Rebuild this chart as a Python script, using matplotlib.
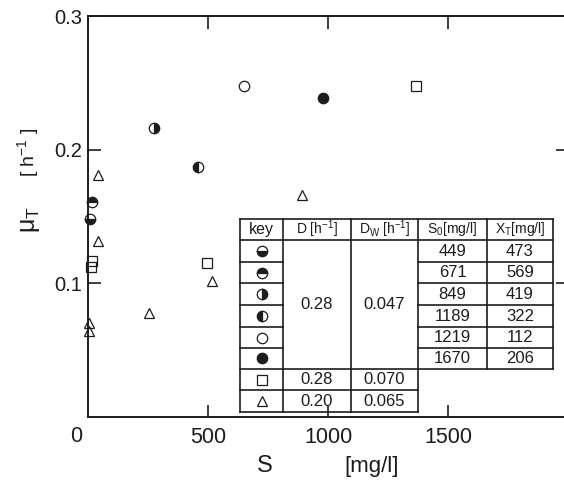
import matplotlib
matplotlib.use('Agg')
import matplotlib.pyplot as plt
from matplotlib.lines import Line2D

plt.rcParams['font.family'] = ['Liberation Sans', 'DejaVu Sans']
plt.rcParams['mathtext.fontset'] = 'custom'
plt.rcParams['mathtext.rm'] = 'Liberation Sans'
plt.rcParams['mathtext.it'] = 'Liberation Sans:italic'

# data: S [mg/l] vs mu_T [1/h]
s_449 = [8];    mu_449 = [0.148]
s_671 = [17];   mu_671 = [0.161]
s_849 = [275];  mu_849 = [0.216]
s_1189 = [458]; mu_1189 = [0.187]
s_1219 = [650]; mu_1219 = [0.248]
s_1670 = [979]; mu_1670 = [0.239]
s_sq = [17, 13, 496, 1367]
mu_sq = [0.117, 0.112, 0.115, 0.248]
s_tri = [42, 42, 4, 4, 254, 517, 892]
mu_tri = [0.181, 0.132, 0.070, 0.064, 0.078, 0.102, 0.166]

# table contents
table_header = ['key', 'D [h$^{-1}$]', 'D$_\\mathrm{W}$ [h$^{-1}$]', 'S$_0$[mg/l]', 'X$_\\mathrm{T}$[mg/l]']
s0_values = ['449', '671', '849', '1189', '1219', '1670']
xt_values = ['473', '569', '419', '322', '112', '206']
d_values = ['0.28', '0.28', '0.20']
dw_values = ['0.047', '0.070', '0.065']

INK = '#1c1c1c'
W, H = 564, 486

def fx(px):
    return px / W

def fy(py):
    return 1 - py / H

fig = plt.figure(figsize=(5.64, 4.86), dpi=100)
ax = fig.add_axes([fx(88), fy(417), fx(568) - fx(88), fy(16) - fy(417)])
ax.set_xlim(0, 2000)
ax.set_ylim(0, 0.3)

series = [
    (s_449, mu_449, 'o', 'bottom'),
    (s_671, mu_671, 'o', 'top'),
    (s_849, mu_849, 'o', 'right'),
    (s_1189, mu_1189, 'o', 'left'),
    (s_1219, mu_1219, 'o', 'none'),
    (s_1670, mu_1670, 'o', 'full'),
    (s_sq, mu_sq, 's', 'none'),
    (s_tri, mu_tri, '^', 'none'),
]

def mstyle(marker, fill):
    ms = 7.5 if marker == 'o' else 7.2
    return dict(marker=marker, fillstyle=fill, markersize=ms,
                markeredgecolor=INK, markerfacecolor=INK,
                markerfacecoloralt='white', markeredgewidth=0.9,
                linestyle='none')

for xs, ys, m, f in series:
    ax.plot(xs, ys, clip_on=False, **mstyle(m, f))

for side in ['left', 'bottom', 'top', 'right']:
    ax.spines[side].set_linewidth(1.4)
    ax.spines[side].set_color(INK)

ax.set_xticks([500, 1000, 1500])
ax.set_yticks([0.1, 0.2, 0.3])
ax.set_yticklabels(['0.1', '0.2', '0.3'])
ax.tick_params(axis='both', direction='in', length=9, width=1.2, color=INK,
               top=True, right=True, labelcolor=INK)
ax.tick_params(axis='x', labelsize=15.5, pad=7)
ax.tick_params(axis='y', labelsize=14.5, pad=4)

fig.text(fx(76), fy(436), '0', fontsize=15.5, color=INK, ha='center', va='center')

# axis labels
fig.text(fx(265), fy(466), 'S', fontsize=17, color=INK, ha='center', va='center')
fig.text(fx(372), fy(466), '[mg/l]', fontsize=16, color=INK, ha='center', va='center')
fig.text(fx(30), fy(220), 'μ$_\\mathrm{T}$', fontsize=18, color=INK, ha='center', va='center', rotation=90)
fig.text(fx(28), fy(152), '[ h$^{-1}$ ]', fontsize=14, color=INK, ha='center', va='center', rotation=90)

# key table
cols = [240, 283, 351, 418, 487, 553]
rows = [219, 240, 262, 283, 305, 327, 348, 369, 390, 412]

def line(x0, y0, x1, y1):
    fig.add_artist(Line2D([fx(x0), fx(x1)], [fy(y0), fy(y1)], color=INK, lw=1.2))

line(cols[0], rows[0], cols[5], rows[0])
line(cols[0], rows[1], cols[5], rows[1])
for r in rows[2:7]:
    line(cols[0], r, cols[1], r)
    line(cols[3], r, cols[5], r)
line(cols[0], rows[7], cols[5], rows[7])
line(cols[0], rows[8], cols[3], rows[8])
line(cols[0], rows[9], cols[3], rows[9])
for c in cols[:4]:
    line(c, rows[0], c, rows[9])
for c in cols[4:]:
    line(c, rows[0], c, rows[7])

def cx(i):
    return fx((cols[i] + cols[i + 1]) / 2)

def cy(j):
    return fy((rows[j] + rows[j + 1]) / 2)

for i, h in enumerate(table_header):
    fig.text(cx(i), cy(0), h, fontsize=10 if i else 11.5, color=INK, ha='center', va='center')

for j, (_, _, m, f) in enumerate(series):
    fig.add_artist(Line2D([cx(0)], [cy(j + 1)], **mstyle(m, f)))

for j in range(6):
    fig.text(cx(3), cy(j + 1), s0_values[j], fontsize=12, color=INK, ha='center', va='center')
    fig.text(cx(4), cy(j + 1), xt_values[j], fontsize=12, color=INK, ha='center', va='center')

mid = fy((rows[1] + rows[7]) / 2)
fig.text(cx(1), mid, d_values[0], fontsize=12, color=INK, ha='center', va='center')
fig.text(cx(2), mid, dw_values[0], fontsize=12, color=INK, ha='center', va='center')
for k in range(2):
    fig.text(cx(1), cy(7 + k), d_values[k + 1], fontsize=12, color=INK, ha='center', va='center')
    fig.text(cx(2), cy(7 + k), dw_values[k + 1], fontsize=12, color=INK, ha='center', va='center')

fig.savefig('out.png', dpi=100)
